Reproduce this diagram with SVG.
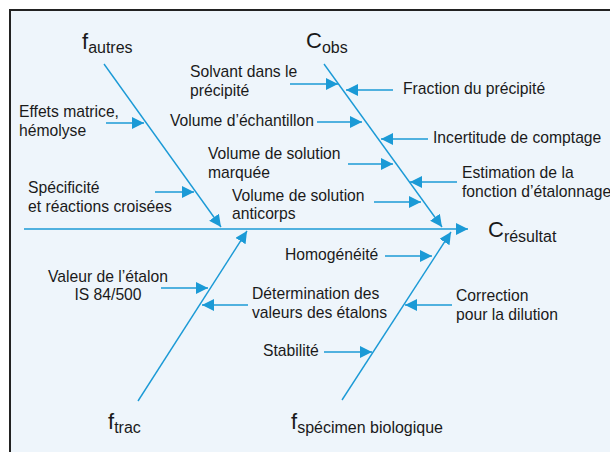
<svg xmlns="http://www.w3.org/2000/svg" width="610" height="452" viewBox="0 0 610 452">
<defs>
<marker id="ah" markerUnits="userSpaceOnUse" markerWidth="13" markerHeight="13" refX="12" refY="6" orient="auto">
<path d="M0,0 L12,6 L0,12 Z" fill="#1b9ad6"/>
</marker>
<style>
.c{stroke:#1b9ad6;stroke-width:1.4;fill:none;marker-end:url(#ah)}
.t{font-family:"Liberation Sans",Arial,sans-serif;font-size:15.7px;fill:#1a1a1a}
.big{font-family:"Liberation Sans",Arial,sans-serif;font-size:22px;fill:#1a1a1a}
.sub{font-size:16px}
</style>
</defs>
<rect x="0" y="0" width="610" height="452" fill="#ffffff"/>
<rect x="10" y="10" width="640" height="480" fill="#eef5fb" stroke="#222" stroke-width="2"/>
<g id="connectors">
<line class="c" x1="24" y1="229" x2="468" y2="229"/>
<line class="c" x1="104" y1="64" x2="221" y2="227"/>
<line class="c" x1="324" y1="64" x2="442" y2="227"/>
<line class="c" x1="138" y1="401" x2="247" y2="231"/>
<line class="c" x1="342" y1="400" x2="451" y2="232"/>
<line class="c" x1="106" y1="123" x2="144" y2="123"/>
<line class="c" x1="155" y1="192" x2="194" y2="192"/>
<line class="c" x1="290" y1="84" x2="338" y2="84"/>
<line class="c" x1="317" y1="122" x2="362" y2="122"/>
<line class="c" x1="348" y1="164" x2="393" y2="164"/>
<line class="c" x1="374" y1="202" x2="421" y2="202"/>
<line class="c" x1="161" y1="288" x2="208" y2="288"/>
<line class="c" x1="385" y1="256" x2="432" y2="256"/>
<line class="c" x1="324" y1="352" x2="372" y2="352"/>
<line class="c" x1="393" y1="90" x2="346" y2="90"/>
<line class="c" x1="428" y1="139" x2="381" y2="139"/>
<line class="c" x1="457" y1="182" x2="410" y2="182"/>
<line class="c" x1="248" y1="305" x2="202" y2="305"/>
<line class="c" x1="452" y1="305" x2="405" y2="305"/>
</g>
<g id="n-resultat"><text class="big" x="488" y="237">C<tspan class="sub" dy="5">résultat</tspan></text></g>
<g id="n-autres"><text class="big" x="82" y="49">f<tspan class="sub" dy="4">autres</tspan></text></g>
<g id="n-obs"><text class="big" x="306" y="48">C<tspan class="sub" dy="5">obs</tspan></text></g>
<g id="n-trac"><text class="big" x="108" y="429">f<tspan class="sub" dy="3.5">trac</tspan></text></g>
<g id="n-specimen"><text class="big" x="291" y="429">f<tspan class="sub" dy="4">spécimen biologique</tspan></text></g>
<g id="n-effets"><text class="t" x="19" y="117">Effets matrice,</text><text class="t" x="19" y="136">hémolyse</text></g>
<g id="n-specificite"><text class="t" x="28" y="192.5">Spécificité</text><text class="t" x="28" y="211.5">et réactions croisées</text></g>
<g id="n-solvant"><text class="t" x="190" y="77">Solvant dans le</text><text class="t" x="190" y="96">précipité</text></g>
<g id="n-volech"><text class="t" x="170" y="126">Volume d’échantillon</text></g>
<g id="n-volmarq"><text class="t" x="208" y="159">Volume de solution</text><text class="t" x="208" y="178">marquée</text></g>
<g id="n-volanti"><text class="t" x="232" y="200.5">Volume de solution</text><text class="t" x="232" y="219">anticorps</text></g>
<g id="n-fraction"><text class="t" x="403" y="94">Fraction du précipité</text></g>
<g id="n-incertitude"><text class="t" x="433" y="143">Incertitude de comptage</text></g>
<g id="n-estimation"><text class="t" x="462" y="177.5">Estimation de la</text><text class="t" x="462" y="197">fonction d’étalonnage</text></g>
<g id="n-valeur"><text class="t" x="108" y="281.5" text-anchor="middle">Valeur de l’étalon</text><text class="t" x="108" y="300" text-anchor="middle">IS 84/500</text></g>
<g id="n-determination"><text class="t" x="252" y="299">Détermination des</text><text class="t" x="252" y="318">valeurs des étalons</text></g>
<g id="n-homogeneite"><text class="t" x="285" y="260">Homogénéité</text></g>
<g id="n-correction"><text class="t" x="456" y="300.5">Correction</text><text class="t" x="456" y="319.5">pour la dilution</text></g>
<g id="n-stabilite"><text class="t" x="263" y="356">Stabilité</text></g>
</svg>
